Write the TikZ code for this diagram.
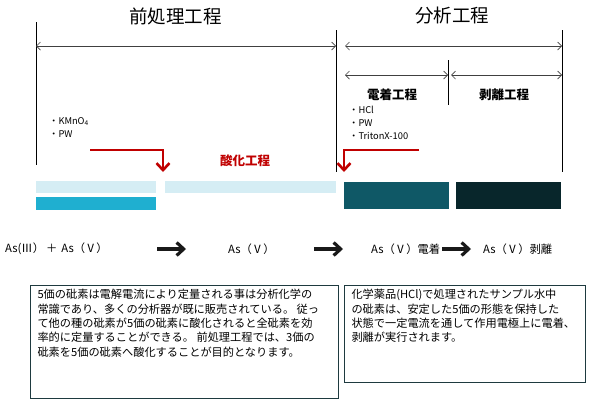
\documentclass[tikz,border=0pt]{standalone}
\usepackage{fontspec}
\setmainfont{Noto Sans CJK JP}
\usetikzlibrary{positioning}
\usetikzlibrary{arrows.meta}

\definecolor{lightbar}{HTML}{D5EDF4}
\definecolor{cyanbar}{HTML}{1FAFD0}
\definecolor{tealbar}{HTML}{0F5866}
\definecolor{darkbar}{HTML}{08262B}
\definecolor{oxred}{HTML}{C00000}
\definecolor{boxline}{HTML}{1E3A3F}

\tikzset{
  title/.style={font=\fontsize{18.5}{20}\selectfont},
  stage/.style={font=\bfseries\fontsize{12.5}{14}\selectfont},
  reagents/.style={anchor=north west, inner sep=0pt, align=left, font=\fontsize{9.3}{13}\selectfont},
  species/.style={anchor=west, inner sep=0pt, font=\fontsize{11.3}{13}\selectfont},
  limit/.style={draw=black, line width=0.8pt},
  span/.style={{Straight Barb[length=4pt,width=8pt]}-{Straight Barb[length=4pt,width=8pt]}, draw=black!75, line width=0.7pt},
  bar/.style={shape=rectangle, inner sep=0pt, draw=none},
  redarrow/.style={-{Straight Barb[length=7pt,width=13pt]}, draw=oxred, line width=2.6pt},
  reaction/.style={-{Straight Barb[length=7pt,width=13pt]}, draw=black!90, line width=3.2pt},
  note/.style={shape=rectangle, draw=boxline, line width=1pt, anchor=north west, inner xsep=7pt, inner ysep=4pt, font=\fontsize{11.2}{14.3}\selectfont}
}

\begin{document}
\begin{tikzpicture}[x=1pt, y=-1pt]
      \useasboundingbox (0,0) rectangle (594,408);

      \node[title] (pretitle) at (175.5,16) {前処理工程};
      \node[title] (antitle) at (452,16) {分析工程};

      \coordinate (lefttop) at (36,22);
      \coordinate (leftbot) at (36,165);
      \coordinate (midtop) at (336,30);
      \coordinate (midbot) at (336,172);
      \coordinate (righttop) at (562,30);
      \coordinate (rightbot) at (562,172);
      \coordinate (divtop) at (448,60);
      \coordinate (divbot) at (448,105);
      \draw[limit] (lefttop) -- (leftbot);
      \draw[limit] (midtop) -- (midbot);
      \draw[limit] (righttop) -- (rightbot);
      \draw[limit] (divtop) -- (divbot);

      \coordinate (prel) at (36,46);
      \coordinate (prer) at (336,46);
      \coordinate (anl) at (345,46);
      \coordinate (anr) at (562,46);
      \coordinate (depl) at (345,75);
      \coordinate (depr) at (448,75);
      \coordinate (strl) at (451,75);
      \coordinate (strr) at (562,75);
      \draw[span] (prel) -- (prer);
      \draw[span] (anl) -- (anr);
      \draw[span] (depl) -- (depr);
      \draw[span] (strl) -- (strr);

      \node[stage] (deposit) at (392,95) {電着工程};
      \node[stage] (strip) at (504,95) {剥離工程};

      \node[reagents] (kmno) at (49,117) {・KMnO\textsubscript{4}\\・PW};
      \node[reagents] (hcl) at (349,106) {・HCl\\・PW\\・TritonX-100};

      \node[stage, text=oxred] (oxlabel) at (245,161) {酸化工程};

      \coordinate (oxstart) at (90,150);
      \coordinate (oxend) at (163,172);
      \coordinate (elstart) at (419,150);
      \coordinate (elend) at (344,172);
      \draw[redarrow] (oxstart) -| (oxend);
      \draw[redarrow] (elstart) -| (elend);

      \node[bar, fill=lightbar, minimum width=120pt, minimum height=12pt] (bar1) at (96,187) {};
      \node[bar, fill=lightbar, minimum width=171pt, minimum height=12pt] (bar2) at (250.5,187) {};
      \node[bar, fill=cyanbar, minimum width=120pt, minimum height=13pt] (bar3) at (96,203.5) {};
      \node[bar, fill=tealbar, minimum width=105pt, minimum height=27pt] (bar4) at (396.5,195.5) {};
      \node[bar, fill=darkbar, minimum width=105pt, minimum height=27pt] (bar5) at (508.5,195.5) {};

      \node[species] (mix) at (5,249) {As(Ⅲ）\hspace{2pt}＋\hspace{4pt}As（Ⅴ）};
      \node[species] (five) at (228,249) {As（Ⅴ）};
      \node[species] (fivedep) at (371,249) {As（Ⅴ）電着};
      \node[species] (fivestr) at (483,249) {As（Ⅴ）剥離};

      \coordinate (r1a) at (157,249);
      \coordinate (r1b) at (186,249);
      \coordinate (r2a) at (314,249);
      \coordinate (r2b) at (343,249);
      \coordinate (r3a) at (442,249);
      \coordinate (r3b) at (471,249);
      \draw[reaction] (r1a) -- (r1b);
      \draw[reaction] (r2a) -- (r2b);
      \draw[reaction] (r3a) -- (r3b);

      \node[note] (prenote) at (30,285) {\parbox[t][105pt][t]{294pt}{%
        5価の砒素は電解電流により定量される事は分析化学の\\
        常識であり、多くの分析器が既に販売されている。 従っ\\
        て他の種の砒素が5価の砒素に酸化されると全砒素を効\\
        率的に定量することができる。 前処理工程では、3価の\\
        砒素を5価の砒素へ酸化することが目的となります。}};
      \node[note] (annote) at (344,285) {\parbox[t][89pt][t]{227pt}{%
        化学薬品(HCl)で処理されたサンプル水中\\
        の砒素は、安定した5価の形態を保持した\\
        状態で一定電流を通して作用電極上に電着、\\
        剥離が実行されます。}};
    \end{tikzpicture}
\end{document}
